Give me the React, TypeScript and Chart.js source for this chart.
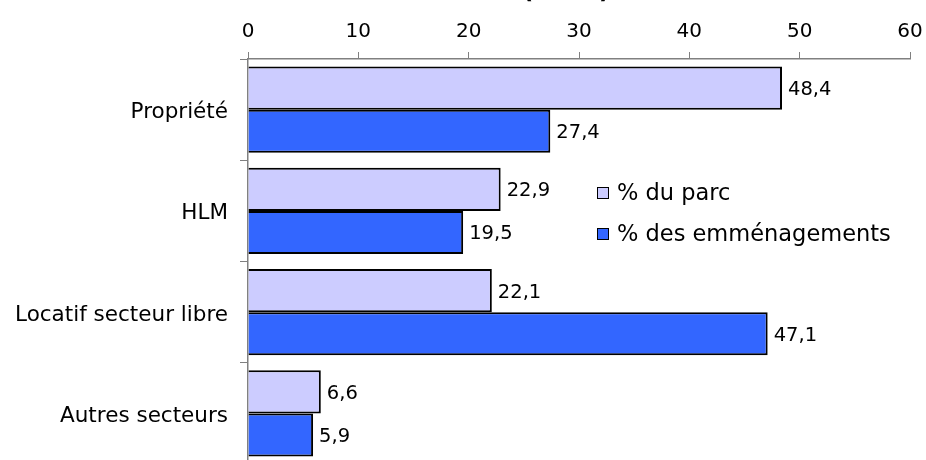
import React, { useEffect, useRef } from "react";
import { Chart, registerables } from "chart.js";

Chart.register(...registerables);

const categories = ["Propriété", "HLM", "Locatif secteur libre", "Autres secteurs"];
const parcValues = [48.4, 22.9, 22.1, 6.6];
const emmenagementValues = [27.4, 19.5, 47.1, 5.9];
const seriesLabels = ["% du parc", "% des emménagements"];
const seriesColors = ["#CCCCFF", "#3366FF"];
const xTicks = [0, 10, 20, 30, 40, 50, 60];
const titleText = "(en %)";

const FONT = "'DejaVu Sans', Verdana, sans-serif";

const labelsPlugin = {
  id: "valueLabels",
  afterDatasetsDraw(chart: any) {
    const ctx = chart.ctx;
    ctx.save();
    ctx.font = `19.5px ${FONT}`;
    ctx.fillStyle = "#000";
    ctx.textAlign = "left";
    ctx.textBaseline = "middle";
    chart.data.datasets.forEach((ds: any, i: number) => {
      const meta = chart.getDatasetMeta(i);
      meta.data.forEach((el: any, j: number) => {
        const v = ds.data[j] as number;
        ctx.fillText(v.toFixed(1).replace(".", ","), el.x + 6, el.y + 2);
      });
    });
    ctx.restore();
  },
};

const legendPlugin = {
  id: "customLegend",
  afterDraw(chart: any) {
    const ctx = chart.ctx;
    ctx.save();
    ctx.font = `22.5px ${FONT}`;
    ctx.textBaseline = "middle";
    ctx.textAlign = "left";
    const x0 = 597;
    const ys = [193, 234];
    seriesLabels.forEach((lab, i) => {
      const y = ys[i];
      ctx.fillStyle = seriesColors[i];
      ctx.fillRect(x0, y - 6, 12, 12);
      ctx.strokeStyle = "#000";
      ctx.lineWidth = 1;
      ctx.strokeRect(x0 + 0.5, y - 5.5, 11, 11);
      ctx.fillStyle = "#000";
      ctx.fillText(lab, x0 + 20, y + 1);
    });
    // title, mostly above the visible area
    ctx.font = `bold 24px ${FONT}`;
    ctx.textAlign = "center";
    ctx.textBaseline = "alphabetic";
    ctx.fillText(titleText, 566, -2);
    ctx.restore();
  },
};

export default function App() {
  const ref = useRef<HTMLCanvasElement | null>(null);
  useEffect(() => {
    if (!ref.current) return;
    const chart = new Chart(ref.current, {
      type: "bar",
      data: {
        labels: categories,
        datasets: [
          {
            label: seriesLabels[0],
            data: parcValues,
            backgroundColor: seriesColors[0],
            borderColor: "#000",
            borderWidth: 2,
          },
          {
            label: seriesLabels[1],
            data: emmenagementValues,
            backgroundColor: seriesColors[1],
            borderColor: "#000",
            borderWidth: 2,
          },
        ],
      },
      options: {
        indexAxis: "y",
        responsive: false,
        animation: false,
        maintainAspectRatio: false,
        datasets: {
          bar: { categoryPercentage: 0.85, barPercentage: 1 },
        },
        layout: { padding: { left: 0, right: 16, top: 0, bottom: 16 } },
        plugins: {
          legend: { display: false },
          tooltip: { enabled: false },
          title: { display: false },
        },
        scales: {
          x: {
            position: "top",
            min: 0,
            max: 60,
            afterBuildTicks: (scale: any) => {
              scale.ticks = xTicks.map((v) => ({ value: v }));
            },
            afterFit: (scale: any) => {
              scale.height = 59;
              scale.paddingLeft = 0;
              scale.paddingRight = 0;
            },
            ticks: {
              color: "#000",
              font: { family: FONT, size: 20 },
              padding: 8,
            },
            grid: {
              drawOnChartArea: false,
              drawTicks: true,
              tickLength: 7,
              color: "#808080",
              lineWidth: 1,
            },
            border: { display: true, color: "#808080", width: 1.5 },
          },
          y: {
            offset: true,
            afterFit: (scale: any) => {
              scale.width = 248;
              scale.paddingTop = 0;
              scale.paddingBottom = 0;
            },
            ticks: {
              color: "#000",
              font: { family: FONT, size: 21.5 },
              padding: 12,
              labelOffset: 3,
            },
            grid: {
              offset: true,
              drawOnChartArea: false,
              drawTicks: true,
              tickLength: 8,
              color: "#808080",
              lineWidth: 1,
            },
            border: { display: true, color: "#808080", width: 1.5 },
          },
        },
      },
      plugins: [labelsPlugin, legendPlugin],
    });
    return () => chart.destroy();
  }, []);
  return (
    <div style={{ position: "fixed", top: 0, left: 0, width: 926, height: 480, background: "#fff" }}>
      <canvas ref={ref} width={926} height={480} style={{ width: 926, height: 480 }} />
    </div>
  );
}
